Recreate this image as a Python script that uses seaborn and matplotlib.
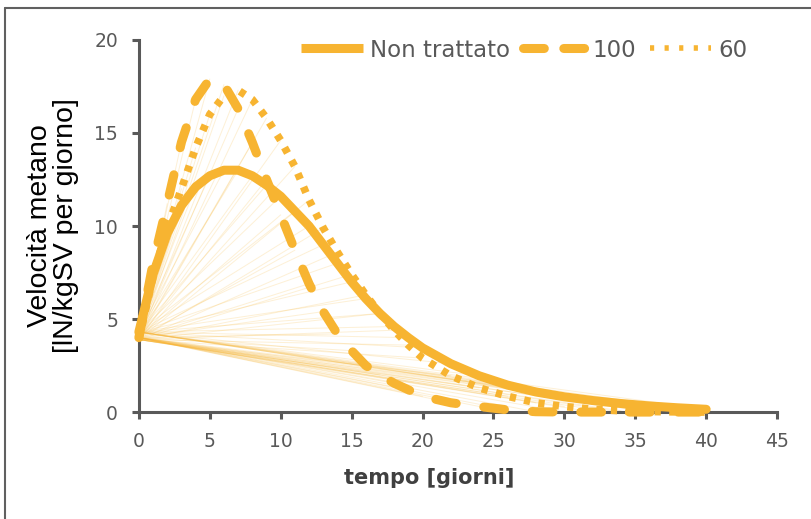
import numpy as np
import pandas as pd
import matplotlib
matplotlib.use('Agg')
import matplotlib.pyplot as plt
import seaborn as sns
from matplotlib.lines import Line2D

# dati
giorni = [0, 1, 2, 3, 4, 5, 6, 7, 8, 9, 10, 11, 12, 13, 14, 15, 16, 17, 18, 19,
          20, 22, 24, 26, 28, 30, 32, 34, 36, 38, 40]
non_trattato = [4.3, 7.4, 9.6, 11.1, 12.1, 12.7, 13.0, 13.0, 12.7, 12.2, 11.6, 10.8,
                10.0, 9.0, 8.0, 7.0, 6.1, 5.3, 4.6, 4.0, 3.45, 2.6, 1.95, 1.45, 1.08,
                0.82, 0.62, 0.46, 0.33, 0.23, 0.15]
t100 = [4.0, 8.0, 11.2, 14.5, 16.8, 17.9, 17.6, 16.3, 14.5, 12.5, 10.6, 8.7, 6.9,
        5.4, 4.2, 3.3, 2.5, 2.0, 1.55, 1.2, 0.85, 0.5, 0.3, 0.12, 0.02, 0.0, 0.0,
        0.0, 0.0, 0.0, 0.0]
t60 = [3.9, 7.3, 9.9, 12.0, 14.2, 16.0, 17.0, 17.3, 16.8, 15.8, 14.6, 13.2, 11.4,
       9.9, 8.6, 7.4, 6.3, 5.3, 4.4, 3.6, 2.9, 1.95, 1.3, 0.85, 0.5, 0.3, 0.15,
       0.07, 0.03, 0.01, 0.0]
serie = ['Non trattato', '100', '60']

df = pd.DataFrame({'giorni': giorni, 'Non trattato': non_trattato, '100': t100, '60': t60})

arancio = '#F7B431'
grigio = '#595959'

sns.set_style('white')
plt.rcParams['font.family'] = ['DejaVu Sans']
plt.rcParams['lines.scale_dashes'] = False

fig = plt.figure(figsize=(8.12, 5.19), dpi=100)
ax = fig.add_axes([0.171, 0.206, 0.786, 0.717])

# linee sottili a ventaglio dal primo punto (artefatto del grafico originale)
for nome in serie:
    x0, y0 = df['giorni'].iloc[0], df[nome].iloc[0]
    for xi, yi in zip(df['giorni'], df[nome]):
        ax.plot([x0, xi], [y0, yi], color=arancio, lw=0.7, alpha=0.2, zorder=1)

stili = {
    'Non trattato': dict(lw=6.5, cap='round', dashes=None, leg=None, leg_lw=6.5),
    '100': dict(lw=6.5, cap='round', dashes=(15, 20), leg=(15, 14), leg_lw=6.5),
    '60': dict(lw=5.5, cap='butt', dashes=(4.5, 6), leg=(3, 7.5), leg_lw=4),
}
handles = []
for nome in serie:
    st = stili[nome]
    sns.lineplot(data=df, x='giorni', y=nome, ax=ax, color=arancio, lw=st['lw'])
    ln = ax.lines[-1]
    ln.set_zorder(3)
    ln.set_clip_on(False)
    if st['dashes'] is not None:
        ln.set_dashes(st['dashes'])
    ln.set_dash_capstyle(st['cap'])
    ln.set_solid_capstyle('round')
    h = Line2D([], [], color=arancio, lw=st['leg_lw'], solid_capstyle='butt')
    if st['leg'] is not None:
        h.set_dashes(st['leg'])
    h.set_dash_capstyle(st['cap'])
    handles.append(h)

ax.set_xlim(0, 45)
ax.set_ylim(0, 20)
ax.set_xticks(range(0, 46, 5))
ax.set_yticks(range(0, 21, 5))

for s in ['top', 'right']:
    ax.spines[s].set_visible(False)
for s in ['left', 'bottom']:
    ax.spines[s].set_color(grigio)
    ax.spines[s].set_linewidth(2.2)
ax.tick_params(axis='both', colors=grigio, labelsize=13.5, width=2.2, length=5,
               direction='out')
ax.tick_params(axis='y', pad=10)
ax.tick_params(axis='x', pad=9)
ax.tick_params(left=True, bottom=True)

ax.set_xlabel('tempo [giorni]', fontsize=15, fontweight='bold', color='#404040')
ax.xaxis.set_label_coords(0.455, -0.15)
ax.set_ylabel('Velocità metano\n[lN/kgSV per giorno]', fontsize=20.5,
              family='Liberation Sans', color='black', linespacing=1.0)
ax.yaxis.set_label_coords(-0.093, 0.5)

leg = ax.legend(handles, serie, loc='center right', bbox_to_anchor=(0.968, 0.973),
                ncol=3, frameon=False, fontsize=16.5, handlelength=2.7,
                handletextpad=0.3, columnspacing=0.6, borderaxespad=0)
for t in leg.get_texts():
    t.set_color(grigio)

# cornice del riquadro originale
fig.add_artist(Line2D([5 / 812, 5 / 812], [0, 1 - 8 / 519], transform=fig.transFigure,
                      color='#606060', lw=1.5))
fig.add_artist(Line2D([5 / 812, 1], [1 - 8 / 519, 1 - 8 / 519], transform=fig.transFigure,
                      color='#606060', lw=1.5))

fig.savefig('out.png', dpi=100)
